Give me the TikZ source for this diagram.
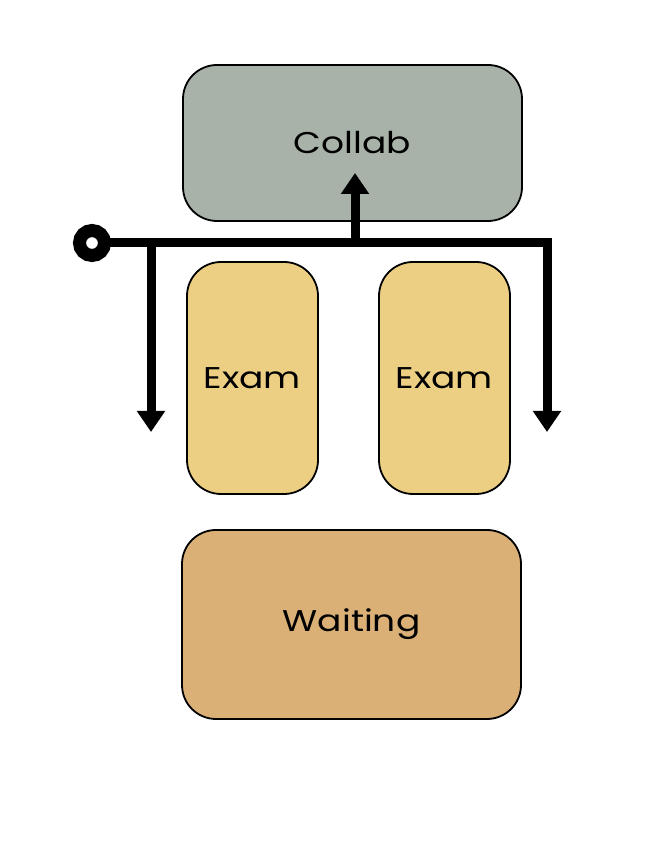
\documentclass[tikz,border=0pt]{standalone}
\usepackage{fontspec}
\setmainfont{Poppins}[FakeStretch=1.2]
\usetikzlibrary{arrows.meta}
\definecolor{collabc}{RGB}{168,178,168}
\definecolor{examc}{RGB}{237,207,131}
\definecolor{waitc}{RGB}{218,176,119}
\tikzset{
  box/.style={draw=black, line width=1.8pt, rounded corners=34pt, inner sep=0pt, font=\fontsize{30}{36}\selectfont},
  flow/.style={line width=9pt, line cap=butt, line join=miter},
  flowarrow/.style={flow, -{Triangle[width=27pt,length=21pt]}},
}
\begin{document}
\begin{tikzpicture}[x=1pt,y=1pt]
\useasboundingbox (0,0) rectangle (654,867);
\node[box, fill=collabc, minimum width=339pt, minimum height=156pt] (collab) at (352.5,724) {Collab};
\node[box, fill=examc, minimum width=131pt, minimum height=232pt] (exam1) at (252.5,489) {Exam};
\node[box, fill=examc, minimum width=131pt, minimum height=232pt] (exam2) at (444.5,489) {Exam};
\node[box, fill=waitc, minimum width=339pt, minimum height=189pt] (wait) at (351.5,242.5) {Waiting};
\coordinate (start) at (92,624);
\coordinate (lt) at (151,624);
\coordinate (lb) at (151,435);
\coordinate (mt) at (355,624);
\coordinate (mb) at (355,694);
\coordinate (rt) at (547,624);
\coordinate (rb) at (547,435);
\draw[flow] (start) -- (rt);
\draw[flowarrow] (lt) -- (lb);
\draw[flowarrow] ([yshift=4.5pt]mt) -- (mb);
\draw[flowarrow] ([yshift=4.5pt]rt) -- (rb);
\draw[line width=13pt, fill=white] (start) circle (12.5pt);
\end{tikzpicture}
\end{document}
